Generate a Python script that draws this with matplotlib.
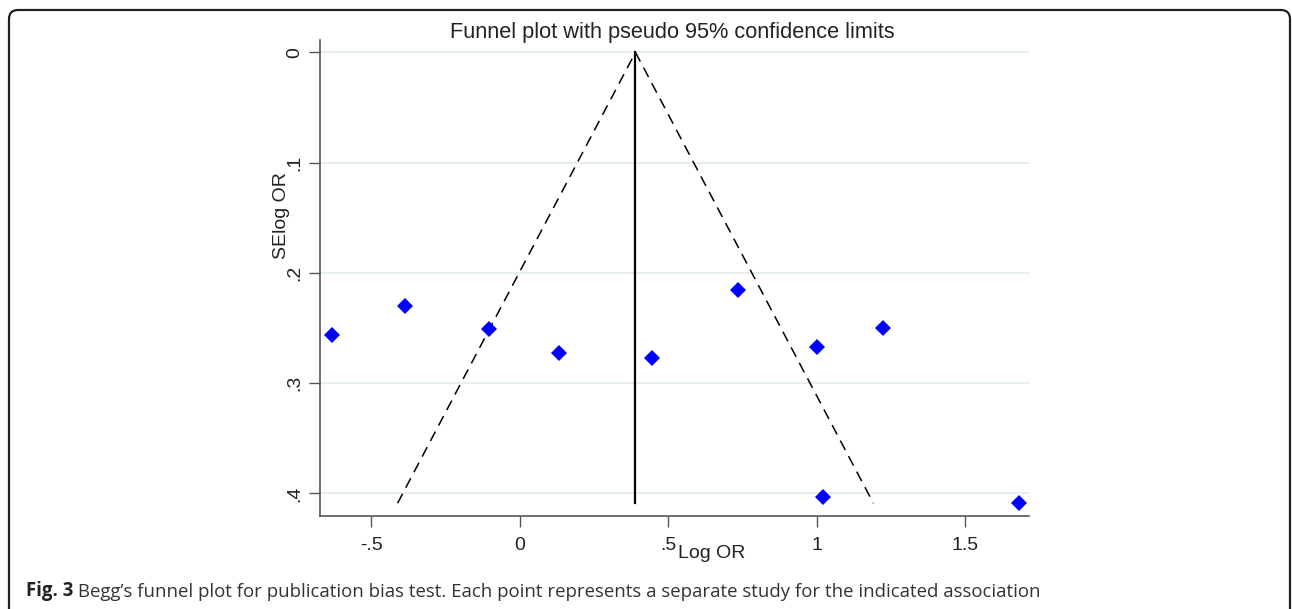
import matplotlib
matplotlib.use("Agg")
import matplotlib.pyplot as plt
from matplotlib.patches import FancyBboxPatch

# study estimates
log_or = [-0.634, -0.385, -0.104, 0.131, 0.446, 0.734, 1.001, 1.223, 1.023, 1.683]
se_log_or = [0.256, 0.230, 0.251, 0.273, 0.277, 0.216, 0.267, 0.250, 0.403, 0.409]
pooled = 0.39
se_max = 0.409
xticks = [-0.5, 0, 0.5, 1, 1.5]
xtick_labels = ["-.5", "0", ".5", "1", "1.5"]
yticks = [0, 0.1, 0.2, 0.3, 0.4]
ytick_labels = ["0", ".1", ".2", ".3", ".4"]

W, H = 1292, 609
fig = plt.figure(figsize=(W / 100, H / 100), dpi=100)
fig.patch.set_facecolor("white")

# background axes in pixel units for frame and caption
bg = fig.add_axes([0, 0, 1, 1], zorder=-1)
bg.set_xlim(0, W)
bg.set_ylim(H, 0)
bg.axis("off")
bg.add_patch(FancyBboxPatch((9, 10), 1281, 640, boxstyle="round,pad=0,rounding_size=9",
                            fill=False, edgecolor="#222222", linewidth=1.6))
t1 = bg.text(26, 601, "Fig. 3", fontfamily="Open Sans", fontweight="bold",
             fontsize=13.4, color="#222222", va="bottom")
bg.annotate(" Begg\u2019s funnel plot for publication bias test. Each point represents a separate study for the indicated association",
            xy=(1, 0), xycoords=t1, va="bottom", fontfamily="Open Sans",
            fontsize=13.4, color="#333333")

left, right = 320, 1029.3
top, bottom = 40, 515.7
ax = fig.add_axes([left / W, (H - bottom) / H, (right - left) / W, (bottom - top) / H])

font = "Liberation Sans"

# funnel limits
ax.plot([pooled, pooled], [0, se_max], color="black", linewidth=1.6, zorder=3)
ax.plot([pooled - 1.96 * se_max, pooled, pooled + 1.96 * se_max], [se_max, 0, se_max],
        color="black", linewidth=1.1, linestyle=(0, (7, 4.5)), zorder=3)

ax.plot(log_or, se_log_or, linestyle="none", marker="D", markersize=8.6,
        color="#0000ff", markeredgewidth=0, zorder=4)

ax.set_xlim(-0.673, 1.717)
ax.set_ylim(0.4203, -0.0112)
ax.set_xticks(xticks)
ax.set_xticklabels(xtick_labels, fontfamily=font, fontsize=14)
ax.set_yticks(yticks)
ax.set_yticklabels(ytick_labels, fontfamily=font, fontsize=14, rotation=90, va="center")
ax.grid(axis="y", color="#e6eef2", linewidth=1.5)
ax.set_axisbelow(True)
ax.tick_params(axis="x", length=8, width=1, color="#555555", pad=7, labelcolor="#222222")
ax.tick_params(axis="y", length=8, width=1, color="#555555", pad=4, labelcolor="#222222")
for s in ["top", "right"]:
    ax.spines[s].set_visible(False)
for s in ["left", "bottom"]:
    ax.spines[s].set_color("#555555")
    ax.spines[s].set_linewidth(1.2)

ax.text(0.497, 1.0035, "Funnel plot with pseudo 95% confidence limits", transform=ax.transAxes,
        ha="center", va="baseline", fontfamily=font, fontsize=15.7, color="#222222")

bg.text(282, 216, "SElog OR", rotation=90, ha="center", va="center",
        fontfamily=font, fontsize=14, color="#222222")
bg.text(712, 553, "Log OR", ha="center", va="center",
        fontfamily=font, fontsize=14, color="#222222")

fig.savefig("out.png", dpi=100, facecolor="white")
